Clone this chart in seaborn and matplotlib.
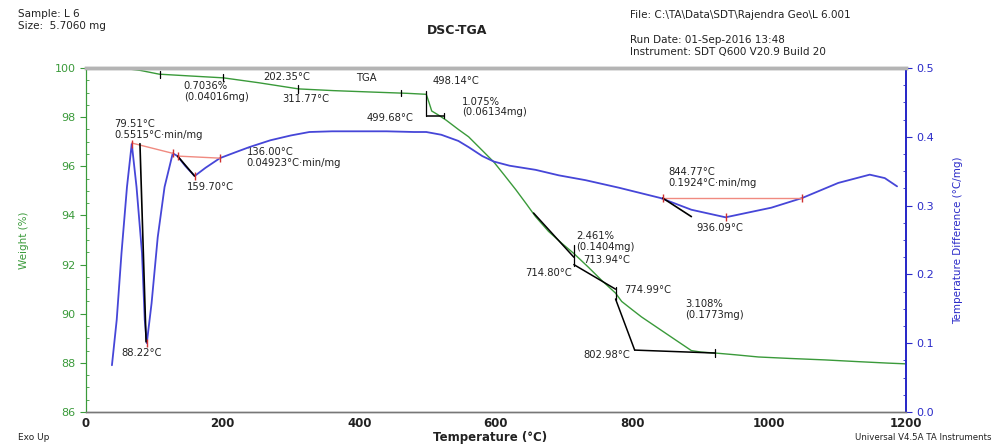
import matplotlib
matplotlib.use("Agg")
import matplotlib.pyplot as plt
import seaborn as sns
import numpy as np
from matplotlib.ticker import MultipleLocator

# TGA curve: temperature (°C) vs weight (%)
tga_temp = [40, 60, 80, 107, 150, 201, 253, 311, 362, 420, 470, 498, 502, 506, 515, 527,
            545, 560, 578, 597, 612, 629, 645, 658, 677, 697, 714, 735, 755, 775, 784,
            800, 813, 838, 863, 886, 900, 921, 950, 984, 1030, 1082, 1130, 1174, 1200]
tga_weight = [100.0, 99.97, 99.9, 99.75, 99.68, 99.6, 99.4, 99.15, 99.08, 99.02, 98.97,
              98.93, 98.6, 98.25, 98.1, 97.88, 97.5, 97.2, 96.7, 96.17, 95.65, 95.05,
              94.45, 93.95, 93.35, 92.85, 92.45, 91.9, 91.35, 90.84, 90.5, 90.15, 89.87,
              89.4, 88.93, 88.5, 88.44, 88.4, 88.33, 88.24, 88.18, 88.12, 88.05, 87.99, 87.96]

# DSC curve: temperature (°C) vs temperature difference (°C/mg)
dsc_temp = [38, 45, 52, 60, 67, 74, 82, 86, 89, 96, 105, 115, 127, 134, 145, 159, 175,
            196, 220, 239, 270, 300, 327, 360, 400, 440, 480, 498, 520, 545, 560, 580,
            597, 620, 658, 692, 731, 780, 841, 886, 936, 1003, 1048, 1101, 1147, 1169, 1187]
dsc_value = [0.068, 0.134, 0.231, 0.327, 0.390, 0.327, 0.231, 0.134, 0.100, 0.158, 0.254,
             0.327, 0.376, 0.372, 0.358, 0.343, 0.355, 0.369, 0.378, 0.385, 0.395, 0.402,
             0.407, 0.408, 0.408, 0.408, 0.407, 0.407, 0.403, 0.394, 0.385, 0.372, 0.364,
             0.358, 0.352, 0.344, 0.337, 0.326, 0.311, 0.294, 0.283, 0.297, 0.311, 0.333,
             0.345, 0.340, 0.328]

# analysis lines drawn by the instrument software
tga_tick_temp = [108, 201, 311, 461, 498, 524, 714, 775, 921]
tga_tick_lo = [99.6, 99.48, 98.98, 98.85, 98.05, 97.95, 91.95, 90.55, 88.25]
tga_tick_hi = [99.88, 99.75, 99.3, 99.1, 99.05, 98.15, 92.8, 91.1, 88.55]
tga_step_temp = [[499, 524], [655, 714], [714, 775], [775, 803], [803, 921]]
tga_step_weight = [[98.05, 98.05], [94.1, 92.3], [92.0, 91.0], [90.6, 88.52], [88.52, 88.4]]

dsc_base_temp = [[67, 127], [134, 196], [844, 1048]]
dsc_base_value = [[0.391, 0.376], [0.372, 0.369], [0.311, 0.311]]
dsc_tan_temp = [[79, 88], [134, 159], [844, 886]]
dsc_tan_value = [[0.390, 0.102], [0.372, 0.343], [0.311, 0.284]]
dsc_mark_temp = [67, 89, 127, 134, 159, 196, 844, 936, 1048]
dsc_mark_value = [0.390, 0.100, 0.376, 0.372, 0.343, 0.369, 0.311, 0.283, 0.311]

# labels: (text, temperature, weight, ha)
labels = [
    ("79.51°C", 42, 97.72, "left"),
    ("0.5515°C·min/mg", 42, 97.27, "left"),
    ("136.00°C", 235, 96.58, "left"),
    ("0.04923°C·min/mg", 235, 96.13, "left"),
    ("159.70°C", 147, 95.16, "left"),
    ("88.22°C", 52, 88.4, "left"),
    ("0.7036%", 143, 99.27, "left"),
    ("(0.04016mg)", 143, 98.84, "left"),
    ("202.35°C", 260, 99.63, "left"),
    ("311.77°C", 288, 98.72, "left"),
    ("TGA", 396, 99.59, "left"),
    ("498.14°C", 507, 99.47, "left"),
    ("1.075%", 550, 98.62, "left"),
    ("(0.06134mg)", 550, 98.21, "left"),
    ("499.68°C", 410, 97.96, "left"),
    ("2.461%", 717, 93.16, "left"),
    ("(0.1404mg)", 717, 92.73, "left"),
    ("713.94°C", 727, 92.19, "left"),
    ("714.80°C", 711, 91.66, "right"),
    ("774.99°C", 787, 90.96, "left"),
    ("3.108%", 877, 90.39, "left"),
    ("(0.1773mg)", 877, 89.95, "left"),
    ("802.98°C", 797, 88.32, "right"),
    ("844.77°C", 853, 95.77, "left"),
    ("0.1924°C·min/mg", 853, 95.32, "left"),
    ("936.09°C", 893, 93.49, "left"),
]

sns.set_style("white")
plt.rcParams['font.family'] = ['DejaVu Sans']

green = '#3a9a3a'
blue = '#2a2ac8'
dsc_blue = '#4646d8'
salmon = '#f08a80'
txt = '#222222'

fig = plt.figure(figsize=(9.95, 4.46), dpi=100)
ax = fig.add_axes([0.0864, 0.0762, 0.8241, 0.7713])
ax2 = ax.twinx()

sns.lineplot(x=tga_temp, y=tga_weight, ax=ax, color=green, lw=1.0, sort=False, estimator=None)
sns.lineplot(x=dsc_temp, y=dsc_value, ax=ax2, color=dsc_blue, lw=1.3, sort=False, estimator=None)

# TGA step analysis
for t, lo, hi in zip(tga_tick_temp, tga_tick_lo, tga_tick_hi):
    ax.plot([t, t], [lo, hi], color='black', lw=0.9)
for ts, ws in zip(tga_step_temp, tga_step_weight):
    ax.plot(ts, ws, color='black', lw=1.1)

# DSC peak analysis
for ts, vs in zip(dsc_base_temp, dsc_base_value):
    ax2.plot(ts, vs, color=salmon, lw=1.0)
for ts, vs in zip(dsc_tan_temp, dsc_tan_value):
    ax2.plot(ts, vs, color='black', lw=1.2)
ax2.scatter(dsc_mark_temp, dsc_mark_value, marker='|', s=40, color='#d03030', lw=1.0, zorder=5)

for s, t, w, ha in labels:
    ax.text(t, w, s, fontsize=7.2, color=txt, ha=ha, va='center')

ax.set_xlim(0, 1200)
ax.set_ylim(86, 100)
ax2.set_ylim(0.0, 0.5)

ax.xaxis.set_major_locator(MultipleLocator(200))
ax.xaxis.set_minor_locator(MultipleLocator(50))
ax.yaxis.set_major_locator(MultipleLocator(2))
ax.yaxis.set_minor_locator(MultipleLocator(0.5))
ax2.yaxis.set_major_locator(MultipleLocator(0.1))
ax2.yaxis.set_minor_locator(MultipleLocator(0.025))
ax2.set_yticks(np.arange(0, 0.51, 0.1))
ax2.set_yticklabels(['0.0', '0.1', '0.2', '0.3', '0.4', '0.5'])

ax.tick_params(axis='y', which='major', direction='out', length=4, width=0.8,
               colors=green, labelsize=8)
ax.tick_params(axis='y', which='minor', direction='in', length=2, width=0.6, colors=green)
ax.tick_params(axis='x', which='major', direction='inout', length=5, width=0.8,
               colors='#555555', labelsize=8.5, labelcolor='#222222', pad=1)
ax.tick_params(axis='x', which='minor', direction='in', length=3, width=0.6, colors='#555555')
ax2.tick_params(axis='y', which='major', direction='out', length=4, width=0.8,
                colors=blue, labelsize=8)
ax2.tick_params(axis='y', which='minor', direction='in', length=2, width=0.6, colors=blue)
for lab in ax.get_xticklabels():
    lab.set_fontweight('bold')

for a in (ax, ax2):
    a.spines['top'].set_color('#b4b4b4')
    a.spines['top'].set_linewidth(2.5)
    a.spines['bottom'].set_color('#777777')
    a.spines['bottom'].set_linewidth(1.0)
    a.spines['left'].set_color(green)
    a.spines['right'].set_color(blue)
    a.spines['right'].set_linewidth(1.4)

ax.set_xlabel('')
ax.set_ylabel('Weight (%)', color=green, fontsize=7.5)
ax.yaxis.set_label_coords(-0.07, 0.5)
ax2.set_ylabel('Temperature Difference (°C/mg)', color=blue, fontsize=7.5)
ax2.yaxis.set_label_coords(1.058, 0.5)

# header / footer texts
fig.text(18 / 995, 1 - 14 / 446, 'Sample: L 6', fontsize=7.5, color=txt, va='center')
fig.text(18 / 995, 1 - 26 / 446, 'Size:  5.7060 mg', fontsize=7.5, color=txt, va='center')
fig.text(457 / 995, 1 - 30 / 446, 'DSC-TGA', fontsize=9, fontweight='bold', color=txt,
         ha='center', va='center')
fig.text(630 / 995, 1 - 15 / 446, 'File: C:\\TA\\Data\\SDT\\Rajendra Geo\\L 6.001',
         fontsize=7.5, color=txt, va='center')
fig.text(630 / 995, 1 - 40 / 446, 'Run Date: 01-Sep-2016 13:48', fontsize=7.5, color=txt,
         va='center')
fig.text(630 / 995, 1 - 52 / 446, 'Instrument: SDT Q600 V20.9 Build 20', fontsize=7.5,
         color=txt, va='center')
fig.text(18 / 995, 1 - 437 / 446, 'Exo Up', fontsize=6.5, color=txt, va='center')
fig.text(490 / 995, 1 - 437 / 446, 'Temperature (°C)', fontsize=8.5, fontweight='bold',
         color=txt, ha='center', va='center')
fig.text(992 / 995, 1 - 437 / 446, 'Universal V4.5A TA Instruments', fontsize=6.2,
         color=txt, ha='right', va='center')

fig.savefig('out.png', dpi=100)
